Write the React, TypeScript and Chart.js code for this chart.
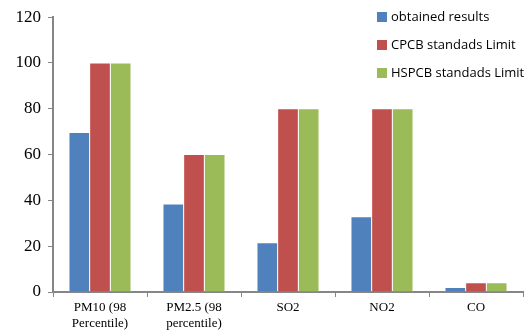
import React, { useEffect, useRef } from "react";
import { Chart, registerables } from "chart.js";

Chart.register(...registerables);

const categories: (string | string[])[] = [
  ["PM10 (98", "Percentile)"],
  ["PM2.5 (98", "percentile)"],
  "SO2",
  "NO2",
  "CO",
];
const obtained = [69.7, 38.4, 21.5, 32.9, 2];
const cpcb = [100, 60, 80, 80, 4];
const hspcb = [100, 60, 80, 80, 4];
const seriesNames = ["obtained results", "CPCB standads Limit", "HSPCB standads Limit"];
const colors = ["#4F81BD", "#C0504D", "#9BBB59"];

const legendPlugin = {
  id: "customLegend",
  afterDraw(chart: any) {
    const ctx = chart.ctx;
    ctx.save();
    ctx.font = "13px 'Open Sans'";
    ctx.textBaseline = "middle";
    ctx.textAlign = "left";
    seriesNames.forEach((name, i) => {
      const y = 12 + i * 28;
      ctx.fillStyle = colors[i];
      ctx.fillRect(377, y, 10, 10);
      ctx.fillStyle = "#000";
      ctx.fillText(name, 391, y + 5);
    });
    ctx.restore();
  },
};

export default function App() {
  const ref = useRef<HTMLCanvasElement | null>(null);
  useEffect(() => {
    if (!ref.current) return;
    const border = "rgba(255,255,255,0.35)";
    const bw = { left: 0.5, right: 0.5, top: 0.5, bottom: 0 };
    const chart = new Chart(ref.current, {
      type: "bar",
      data: {
        labels: categories,
        datasets: [
          { label: seriesNames[0], data: obtained, backgroundColor: colors[0], borderColor: border, borderWidth: bw },
          { label: seriesNames[1], data: cpcb, backgroundColor: colors[1], borderColor: border, borderWidth: bw },
          { label: seriesNames[2], data: hspcb, backgroundColor: colors[2], borderColor: border, borderWidth: bw },
        ],
      },
      options: {
        animation: false,
        responsive: false,
        maintainAspectRatio: false,
        layout: { padding: { top: 17, right: 8, left: 0, bottom: 0 } },
        datasets: { bar: { categoryPercentage: 0.66, barPercentage: 1 } },
        plugins: { legend: { display: false }, tooltip: { enabled: false } },
        scales: {
          x: {
            grid: { display: true, drawOnChartArea: false, drawTicks: true, tickLength: 5, color: "#868686", offset: true },
            border: { display: true, color: "#868686", width: 2 },
            ticks: { color: "#000", font: { family: "'Liberation Serif'", size: 13 }, padding: 3, maxRotation: 0, autoSkip: false },
            afterFit: (s: any) => { s.height = 38; },
          },
          y: {
            min: 0,
            max: 120,
            ticks: { stepSize: 20, color: "#000", font: { family: "'Liberation Serif'", size: 17 }, padding: 7 },
            grid: { display: true, drawOnChartArea: false, drawTicks: true, tickLength: 5, color: "#868686" },
            border: { display: true, color: "#868686", width: 2 },
            afterFit: (s: any) => { s.width = 53; },
          },
        },
      },
      plugins: [legendPlugin],
    });
    return () => chart.destroy();
  }, []);
  return (
    <div style={{ position: "fixed", left: 0, top: 0, width: 531, height: 330, background: "#fff" }}>
      <canvas ref={ref} width={531} height={330} />
    </div>
  );
}
